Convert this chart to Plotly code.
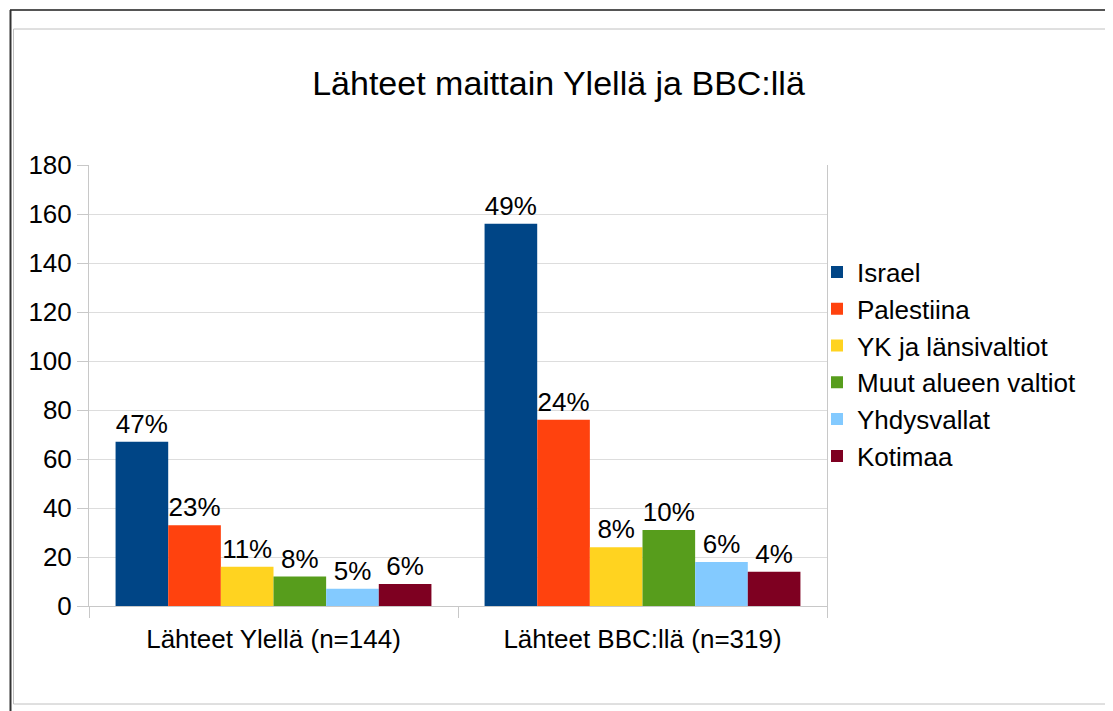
import plotly.graph_objects as go

categories = ["Lähteet Ylellä (n=144)", "Lähteet BBC:llä (n=319)"]
series_names = ["Israel", "Palestiina", "YK ja länsivaltiot", "Muut alueen valtiot", "Yhdysvallat", "Kotimaa"]
israel = [67, 156]
palestiina = [33, 76]
yk = [16, 24]
muut = [12, 31]
yhdysvallat = [7, 18]
kotimaa = [9, 14]
percent_labels = {
    "Israel": ["47%", "49%"],
    "Palestiina": ["23%", "24%"],
    "YK ja länsivaltiot": ["11%", "8%"],
    "Muut alueen valtiot": ["8%", "10%"],
    "Yhdysvallat": ["5%", "6%"],
    "Kotimaa": ["6%", "4%"],
}
y_ticks = [0, 20, 40, 60, 80, 100, 120, 140, 160, 180]

colors = ["#004586", "#ff420e", "#ffd320", "#579d1c", "#83caff", "#7e0021"]
values = [israel, palestiina, yk, muut, yhdysvallat, kotimaa]

FONT = "Liberation Sans, Arial, sans-serif"
OFF = 8  # page body margin offset
W, H = 1113 - OFF, 711 - OFF
L, R, T, B = 89 - OFF, 827 - OFF, 165 - OFF, 606 - OFF

fig = go.Figure()
for name, vals, col in zip(series_names, values, colors):
    fig.add_trace(go.Bar(
        name=name, x=categories, y=vals,
        marker=dict(color=col, line=dict(width=0)),
        text=percent_labels[name], textposition="outside",
        textfont=dict(family=FONT, size=26, color="black"),
        constraintext="none", cliponaxis=False,
        hoverinfo="skip",
    ))

def px_x(p):
    return (p - OFF - L) / (R - L)

def px_y(p):
    return (B - (p - OFF)) / (B - T)

shapes = [
    # outer dark frame (top and left)
    dict(type="line", xref="paper", yref="paper", x0=px_x(10), x1=px_x(1113), y0=px_y(10), y1=px_y(10),
         line=dict(color="#555555", width=2)),
    dict(type="line", xref="paper", yref="paper", x0=px_x(10.5), x1=px_x(10.5), y0=px_y(10), y1=px_y(711),
         line=dict(color="#333333", width=2)),
    # inner light frame
    dict(type="rect", xref="paper", yref="paper", x0=px_x(13.5), x1=px_x(1111), y0=px_y(29), y1=px_y(704),
         line=dict(color="#c0c0c0", width=1)),
]

fig.update_layout(
    width=W, height=H,
    margin=dict(l=L, r=W - R, t=T, b=H - B, pad=0),
    paper_bgcolor="white", plot_bgcolor="white",
    font=dict(family=FONT, size=26, color="black"),
    title=dict(text="Lähteet maittain Ylellä ja BBC:llä", x=(558.5 - OFF) / W, xanchor="center",
               y=1 - (83 - OFF) / H, yanchor="middle", font=dict(family=FONT, size=34, color="black")),
    barmode="group", bargap=0.144, bargroupgap=0,
    showlegend=True,
    legend=dict(x=px_x(817), xanchor="left", y=px_y(364), yanchor="middle",
                font=dict(family=FONT, size=26, color="black"),
                bgcolor="rgba(0,0,0,0)", borderwidth=0, itemclick=False, itemdoubleclick=False),
    shapes=shapes,
)
fig.update_xaxes(
    type="category", showline=True, linecolor="#c8c8c8", linewidth=1,
    ticks="outside", tickson="boundaries", ticklen=11, tickcolor="#c8c8c8",
    ticklabelstandoff=10,
    tickfont=dict(family=FONT, size=26, color="black"), showgrid=False,
)
fig.update_yaxes(
    range=[0, 180], tickvals=y_ticks, showgrid=True, gridcolor="#dddddd", gridwidth=1,
    showline=True, mirror=True, linecolor="#c8c8c8", linewidth=1,
    ticks="outside", ticklen=11, tickcolor="#c8c8c8",
    tickfont=dict(family=FONT, size=26, color="black"), zeroline=False,
)

fig.write_html("out.html")
